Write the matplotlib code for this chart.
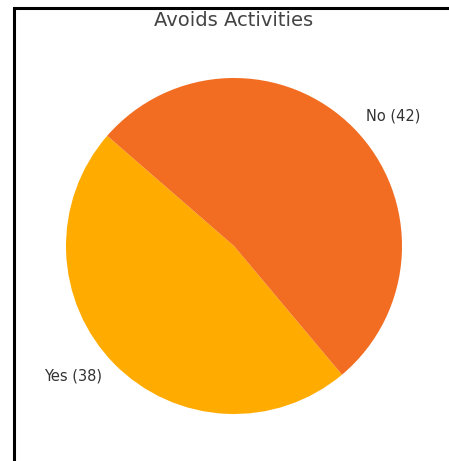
import matplotlib
matplotlib.use("Agg")
import matplotlib.pyplot as plt
from matplotlib.patches import Rectangle

labels = ["Yes", "No"]
counts = [38, 42]
colors = ["#FFAB00", "#F26D21"]
title = "Avoids Activities"

W, H = 449, 461
fig = plt.figure(figsize=(W / 100, H / 100), dpi=100)

# pie centre and radius in pixels
cx, cy, r = 234, 246, 168
lim = 1.25
half = r * lim
ax = fig.add_axes([(cx - half) / W, (H - cy - half) / H, 2 * half / W, 2 * half / H])

ax.pie(counts,
       labels=["{} ({})".format(l, c) for l, c in zip(labels, counts)],
       colors=colors, startangle=139, counterclock=True,
       textprops={"fontsize": 10.5, "color": "#333333"})
ax.set_xlim(-lim, lim)
ax.set_ylim(-lim, lim)
ax.set_aspect("equal")
ax.axis("off")

fig.text(cx / W, 1 - 21 / H, title, ha="center", va="center",
         fontsize=14, color="#444444")

# black frame around the figure
fig.add_artist(Rectangle((13.5 / W, -0.05), 1.2, 1 - 8 / H + 0.05,
                         transform=fig.transFigure, fill=False,
                         edgecolor="black", linewidth=2.2))

fig.savefig("out.png", dpi=100)
